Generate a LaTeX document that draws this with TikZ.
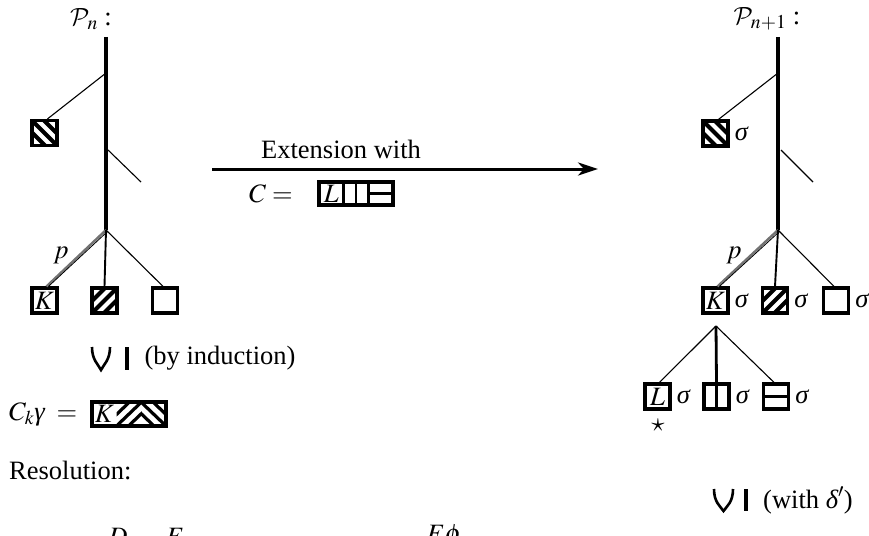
\documentclass[tikz,border=0pt]{standalone}
\usepackage{mathptmx}
\DeclareMathAlphabet{\mathcal}{OMS}{cmsy}{m}{n}
\usepackage{fontspec}
\setmainfont{Liberation Serif}
\usetikzlibrary{arrows.meta,calc}
\newcommand{\gsig}{\mbox{\itshape σ}}
\newcommand{\ggam}{\mbox{\itshape γ}}
\newcommand{\gdel}{\mbox{\itshape δ}}

\begin{document}
\begin{tikzpicture}[x=1pt,y=-1pt,
  every node/.style={font=\fontsize{26.5}{30}\selectfont, inner sep=0pt},
  cell/.style={draw, line width=3.2pt, minimum width=25pt, minimum height=25pt, inner sep=0pt},
  bare/.style={minimum width=25pt, minimum height=24pt, inner sep=0pt},
  nwhatch/.style={path picture={
      \foreach \d in {-12,0,12}{
        \draw[line width=#1] ([xshift=\d pt]path picture bounding box.north west)
          -- ([xshift=\d pt]path picture bounding box.south east);}}},
  nwhatch/.default=4pt,
  nehatch/.style={path picture={
      \foreach \d in {-12,0,12}{
        \draw[line width=#1] ([xshift=\d pt]path picture bounding box.south west)
          -- ([xshift=\d pt]path picture bounding box.north east);}}},
  nehatch/.default=4pt,
  vsplit/.style={path picture={
      \draw[line width=2.8pt] (path picture bounding box.north) -- (path picture bounding box.south);}},
  hsplit/.style={path picture={
      \draw[line width=2.8pt] (path picture bounding box.west) -- (path picture bounding box.east);}},
  trunk/.style={line width=4.5pt},
  twig/.style={line width=1.1pt},
  stem/.style={line width=1.9pt},
  sig/.style={anchor=west, xshift=5pt},
  subs/.style={line width=2.6pt},
  subsbar/.style={line width=3.6pt}
]
\useasboundingbox (0,0) rectangle (869,535);

% ---------- left tree P_n ----------
\node (pn) at (91,19) {$\mathcal{P}_n$ :};
\coordinate (t1top) at (106,37);
\coordinate (t1bot) at (106,230);
\coordinate (t1a) at (106,73);
\coordinate (t1b) at (108,150);
\coordinate (t1c) at (141,182);
\draw[trunk] (t1top) -- (t1bot);

\node[cell, nwhatch] (lh) at (44.5,133) {};
\draw[twig] (t1a) -- ([xshift=3pt]lh.north);
\draw[twig] (t1b) -- (t1c);

\node[cell] (lk) at (44.5,300.5) {$K$};
\node[cell, nehatch] (lm) at (104.5,300.5) {};
\node[cell] (lr) at (165,300.5) {};
\draw[line width=2.4pt, black!55] (t1bot) -- ([xshift=2pt]lk.north);
\draw[line width=0.8pt] ($(t1bot)+(1.5,1.5)$) -- ([xshift=4pt]lk.north);
\draw[stem] (t1bot) -- (lm.north);
\draw[twig] (t1bot) -- ([xshift=-2pt]lr.north);
\node (lp) at (61,255) {$p$};

% ---------- extension arrow ----------
\coordinate (arS) at (212,169);
\coordinate (arE) at (598,169);
\draw[line width=3pt, -{Stealth[length=20pt, width=13pt, inset=6pt]}] (arS) -- (arE);
\node (ext) at (341,149) {Extension with};
\node[anchor=west] (ceq) at (249,194) {$C =$};
\node[cell, minimum width=24.7pt, minimum height=23pt] (c1) at (331.3,193.5) {$L$};
\node[cell, vsplit, minimum width=24.7pt, minimum height=23pt] (c2) at (356,193.5) {};
\node[cell, hsplit, minimum width=24.7pt, minimum height=23pt] (c3) at (380.7,193.5) {};

% ---------- subsumption by induction ----------
\draw[subs] (92,347) .. controls (92,360) and (98,364) .. (101,370)
            .. controls (104,364) and (110,360) .. (110,347);
\draw[subsbar] (127,347) -- (127,370);
\node (ind) at (220,358) {(by induction)};

% ---------- clause C_k gamma ----------
\node[anchor=west] (ckg) at (9,414) {$C_k\ggam\;=$};
\node[bare] (ck1) at (104.5,414) {$K$};
\node[bare, nehatch=3.2pt] (ck2) at (129,414) {};
\node[bare, nwhatch=3.2pt] (ck3) at (153.5,414) {};
\node[draw, line width=3.2pt, minimum width=74pt, minimum height=24pt] (ck) at (129,414) {};

% ---------- resolution ----------
\node[anchor=west] (res) at (9,470) {Resolution:};
\node (rd) at (118,537) {$D$};
\node (re) at (175,537) {$E$};
\node (rephi) at (444,537) {$E\phi$};

% ---------- right tree P_{n+1} ----------
\node (pn1) at (767,19) {$\mathcal{P}_{n+1}$ :};
\coordinate (t2top) at (778,37);
\coordinate (t2bot) at (778,230);
\coordinate (t2a) at (778,73);
\coordinate (t2b) at (781,150);
\coordinate (t2c) at (813,182);
\draw[trunk] (t2top) -- (t2bot);

\node[cell, nwhatch] (rh) at (715.5,133.5) {};
\node[sig] at (rh.east) {$\gsig$};
\draw[twig] (t2a) -- ([xshift=3pt]rh.north);
\draw[twig] (t2b) -- (t2c);

\node[cell] (rk) at (715.5,300.5) {$K$};
\node[cell, nehatch] (rm) at (775,300.5) {};
\node[cell] (rr) at (836,300.5) {};
\node[sig] at (rk.east) {$\gsig$};
\node[sig] at (rm.east) {$\gsig$};
\node[sig] at (rr.east) {$\gsig$};
\draw[line width=2.4pt, black!55] (t2bot) -- ([xshift=2pt]rk.north);
\draw[line width=0.8pt] ($(t2bot)+(1.5,1.5)$) -- ([xshift=4pt]rk.north);
\draw[stem] (t2bot) -- (rm.north);
\draw[twig] (t2bot) -- ([xshift=-2pt]rr.north);
\node (rp) at (734,255) {$p$};

% ---------- subtree below K ----------
\coordinate (apex) at (716,326);
\node[cell] (sl) at (657.5,396.5) {$L$};
\node[cell, vsplit] (sv) at (716.5,396.5) {};
\node[cell, hsplit] (sh) at (776,396.5) {};
\node[sig] at (sl.east) {$\gsig$};
\node[sig] at (sv.east) {$\gsig$};
\node[sig] at (sh.east) {$\gsig$};
\draw[twig] (apex) -- ([xshift=2pt]sl.north);
\draw[line width=2.8pt] (apex) -- (sv.north);
\draw[twig] (apex) -- ([xshift=-2pt]sh.north);
\node (star) at (658,425) {$\star$};

% ---------- subsumption with delta' ----------
\draw[subs] (714,489) .. controls (714,502) and (720,506) .. (723.5,511)
            .. controls (727,506) and (733,502) .. (733,489);
\draw[subsbar] (746,489) -- (746,511);
\node[anchor=west] (wd) at (763,500) {(with $\gdel'$)};
\end{tikzpicture}
\end{document}
